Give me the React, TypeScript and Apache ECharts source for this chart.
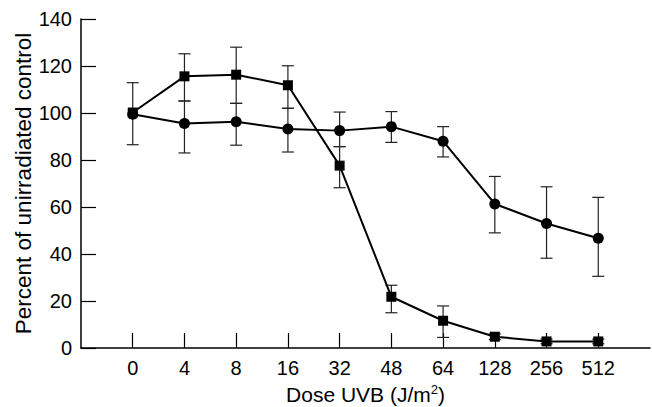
import React, { useEffect, useRef } from "react";
import * as echarts from "echarts";

const doses = ["0", "4", "8", "16", "32", "48", "64", "128", "256", "512"];
const yTicks = [0, 20, 40, 60, 80, 100, 120, 140];

const squareMean = [100.2, 115.6, 116.3, 111.8, 77.6, 21.8, 11.6, 4.8, 2.8, 2.8];
const squareLow = [100.2, 105.1, 104.1, 102.0, 68.2, 15.0, 4.5, 3.6, 1.8, 1.8];
const squareHigh = [100.2, 125.2, 128.0, 120.1, 85.7, 26.7, 17.9, 6.0, 3.8, 3.8];

const circleMean = [99.5, 95.5, 96.3, 93.2, 92.5, 94.2, 88.0, 61.3, 53.0, 46.7];
const circleLow = [86.5, 83.0, 86.3, 83.4, 85.7, 87.5, 81.3, 49.0, 38.2, 30.5];
const circleHigh = [112.9, 105.1, 104.1, 102.0, 100.4, 100.6, 94.2, 73.0, 68.6, 64.1];

const FONT = "'Liberation Sans', Arial, Helvetica, sans-serif";

export default function App() {
  const ref = useRef<HTMLDivElement>(null);
  useEffect(() => {
    if (!ref.current) return;
    const chart = echarts.init(ref.current, undefined, { renderer: "svg" });
    const cats = ["", ...doses, ""];
    const errData = (lo: number[], hi: number[]) =>
      lo.map((l, i) => [i + 1, l, hi[i]]).filter((d) => d[1] !== d[2]);
    const renderErr = (params: any, api: any) => {
      const x = api.value(0);
      const pLo = api.coord([x, api.value(1)]);
      const pHi = api.coord([x, api.value(2)]);
      const w = 6;
      const style = { stroke: "#222", lineWidth: 1.2 };
      return {
        type: "group",
        children: [
          { type: "line", shape: { x1: pLo[0], y1: pLo[1], x2: pHi[0], y2: pHi[1] }, style },
          { type: "line", shape: { x1: pLo[0] - w, y1: pLo[1], x2: pLo[0] + w, y2: pLo[1] }, style },
          { type: "line", shape: { x1: pHi[0] - w, y1: pHi[1], x2: pHi[0] + w, y2: pHi[1] }, style },
        ],
      };
    };
    chart.setOption({
      animation: false,
      backgroundColor: "#fff",
      grid: { left: 81, right: 2, top: 19, bottom: 59, containLabel: false, outerBoundsMode: "none" },
      xAxis: {
        type: "category",
        data: cats,
        boundaryGap: false,
        name: "Dose UVB (J/m{sup|2})",
        nameLocation: "middle",
        nameGap: 35,
        nameMoveOverlap: false,
        nameTextStyle: {
          fontFamily: FONT,
          fontSize: 21,
          color: "#000",
          rich: {
            sup: { fontFamily: FONT, fontSize: 13, color: "#000", padding: [0, 0, 10, 0] },
          },
        },
        axisLine: { lineStyle: { color: "#000", width: 1.5 } },
        axisTick: {
          inside: true,
          length: 15,
          interval: (idx: number, val: string) => val !== "",
          lineStyle: { color: "#000", width: 1.2 },
        },
        axisLabel: { interval: 0, fontFamily: FONT, fontSize: 20, color: "#000", margin: 10 },
        splitLine: { show: false },
      },
      yAxis: {
        type: "value",
        min: yTicks[0],
        max: yTicks[yTicks.length - 1],
        interval: 20,
        name: "Percent of unirradiated control",
        nameLocation: "middle",
        nameGap: 46,
        nameMoveOverlap: false,
        nameTextStyle: { fontFamily: FONT, fontSize: 22.5, color: "#000" },
        axisLine: { show: true, lineStyle: { color: "#000", width: 1.5 } },
        axisTick: { show: true, inside: true, length: 15, lineStyle: { color: "#000", width: 1.2 } },
        axisLabel: { fontFamily: FONT, fontSize: 20, color: "#000", margin: 9 },
        splitLine: { show: false },
      },
      series: [
        {
          type: "custom",
          name: "circleErr",
          renderItem: renderErr,
          data: errData(circleLow, circleHigh),
          z: 1,
        },
        {
          type: "custom",
          name: "squareErr",
          renderItem: renderErr,
          data: errData(squareLow, squareHigh),
          z: 1,
        },
        {
          type: "line",
          name: "circle",
          data: circleMean.map((v, i) => [i + 1, v]),
          symbol: "circle",
          symbolSize: 11,
          lineStyle: { color: "#000", width: 2 },
          itemStyle: { color: "#000" },
          z: 3,
        },
        {
          type: "line",
          name: "square",
          data: squareMean.map((v, i) => [i + 1, v]),
          symbol: "rect",
          symbolSize: 10,
          lineStyle: { color: "#000", width: 2 },
          itemStyle: { color: "#000" },
          z: 4,
        },
      ],
    });
    return () => chart.dispose();
  }, []);
  return (
    <div
      ref={ref}
      style={{ position: "fixed", left: 0, top: 0, width: 652, height: 407, background: "#fff" }}
    />
  );
}
